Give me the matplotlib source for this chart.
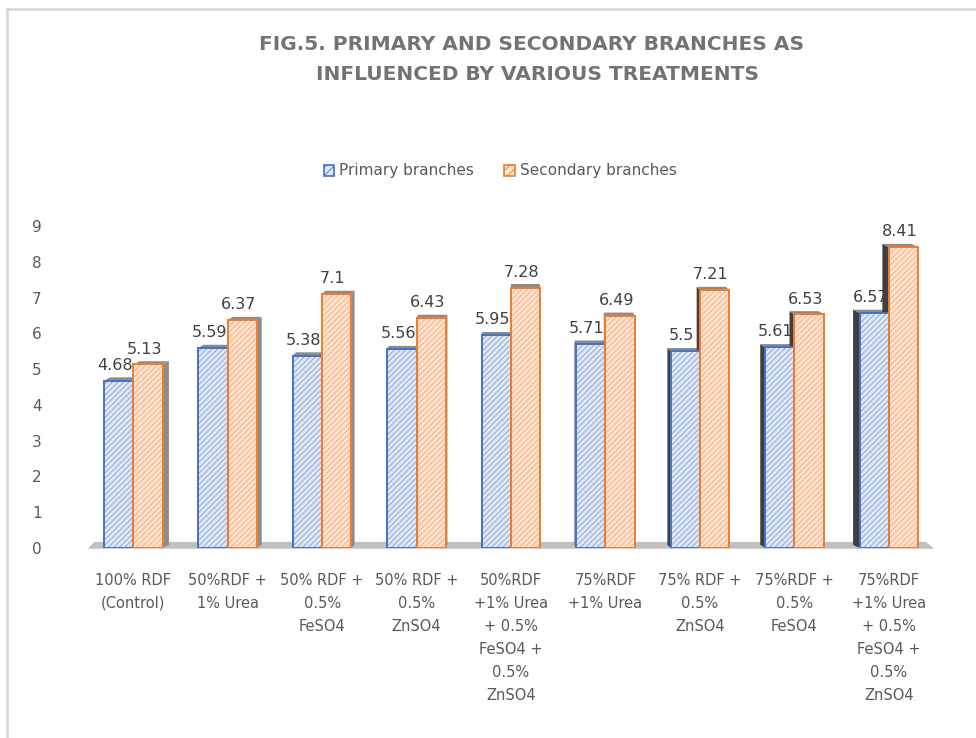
import matplotlib.pyplot as plt
import matplotlib.patches as patches
import matplotlib.transforms as transforms
from matplotlib.lines import Line2D
import numpy as np

# Data
categories = [
    '100% RDF\n(Control)',
    '50%RDF +\n1% Urea',
    '50% RDF +\n0.5%\nFeSO4',
    '50% RDF +\n0.5%\nZnSO4',
    '50%RDF\n+1% Urea\n+ 0.5%\nFeSO4 +\n0.5%\nZnSO4',
    '75%RDF\n+1% Urea',
    '75% RDF +\n0.5%\nZnSO4',
    '75%RDF +\n0.5%\nFeSO4',
    '75%RDF\n+1% Urea\n+ 0.5%\nFeSO4 +\n0.5%\nZnSO4',
]
primary = [4.68, 5.59, 5.38, 5.56, 5.95, 5.71, 5.5, 5.61, 6.57]
secondary = [5.13, 6.37, 7.1, 6.43, 7.28, 6.49, 7.21, 6.53, 8.41]
primary_labels = ['4.68', '5.59', '5.38', '5.56', '5.95', '5.71', '5.5', '5.61', '6.57']
secondary_labels = ['5.13', '6.37', '7.1', '6.43', '7.28', '6.49', '7.21', '6.53', '8.41']
series_names = ['Primary branches', 'Secondary branches']

colors = {
    'primary_edge': '#4472c4',
    'primary_fill': '#dfe7f5',
    'primary_hatch': '#7f9fd8',
    'secondary_edge': '#ed7d31',
    'secondary_fill': '#fde3cf',
    'secondary_hatch': '#f4a774',
    'text': '#595959',
    'title': '#737373',
    'label': '#404040',
}

plt.rcParams['hatch.linewidth'] = 0.6

fig = plt.figure(figsize=(9.76, 7.38), dpi=100)
ax = fig.add_axes([86 / 976, 1 - 548 / 738, 850 / 976, (548 - 226) / 738])

x = np.arange(len(categories))
width = 0.31
center = (len(categories) - 1) / 2


def draw_side(ax, xl, h, w, k):
    """Draw perspective side and top faces of a bar"""
    dx = 0.017 * (center - k)
    dy = 0.09
    if dx > 0:
        side = [(xl + w, 0), (xl + w + dx, dy), (xl + w + dx, h + dy), (xl + w, h)]
        shade = '#8c8c8c'
    else:
        side = [(xl, 0), (xl + dx, dy), (xl + dx, h + dy), (xl, h)]
        shade = '#3f3f3f'
    ax.add_patch(patches.Polygon(side, closed=True, facecolor=shade,
                                 edgecolor='none', zorder=2))
    top = [(xl, h), (xl + w, h), (xl + w + dx, h + dy), (xl + dx, h + dy)]
    ax.add_patch(patches.Polygon(top, closed=True, facecolor='#8c8c8c',
                                 edgecolor='none', zorder=2))


# floor
floor_tr = transforms.blended_transform_factory(ax.transAxes, ax.transData)
ax.add_patch(patches.Polygon([(0.002, -0.02), (0.998, -0.02), (0.988, 0.17), (0.01, 0.17)],
                             closed=True, transform=floor_tr, facecolor='#c0c0c0',
                             edgecolor='none', clip_on=False, zorder=1))

xp = x - width
xs = x.astype(float)
for k in range(len(categories)):
    draw_side(ax, xp[k], primary[k], width, k)
    draw_side(ax, xs[k], secondary[k], width, k)

# fronts: fill+hatch, then border
ax.bar(xp, primary, width, align='edge', color=colors['primary_fill'],
       hatch='//////', edgecolor=colors['primary_hatch'], linewidth=0, zorder=3)
ax.bar(xp, primary, width, align='edge', fill=False,
       edgecolor=colors['primary_edge'], linewidth=1.4, zorder=4)
ax.bar(xs, secondary, width, align='edge', color=colors['secondary_fill'],
       hatch='//////', edgecolor=colors['secondary_hatch'], linewidth=0, zorder=3)
ax.bar(xs, secondary, width, align='edge', fill=False,
       edgecolor=colors['secondary_edge'], linewidth=1.4, zorder=4)

# value labels
for k in range(len(categories)):
    ax.text(xp[k] + width / 2 - 0.04, primary[k] + 0.22, primary_labels[k],
            ha='center', va='bottom', fontsize=11.5, color=colors['label'], zorder=5)
    ax.text(xs[k] + width / 2 - 0.04, secondary[k] + 0.22, secondary_labels[k],
            ha='center', va='bottom', fontsize=11.5, color=colors['label'], zorder=5)

ax.set_xlim(-0.5, len(categories) - 0.5)
ax.set_ylim(0, 9)
ax.set_yticks(range(0, 10))
ax.set_xticks(x)
ax.set_xticklabels(categories, fontsize=10.5, color=colors['text'], linespacing=1.66)
ax.tick_params(axis='x', length=0, pad=18)
ax.tick_params(axis='y', length=0, pad=32, labelsize=11, labelcolor=colors['text'])
for s in ax.spines.values():
    s.set_visible(False)

# title
fig.text(532 / 976, 1 - 45 / 738, 'FIG.5. PRIMARY AND SECONDARY BRANCHES AS',
         ha='center', va='center', fontsize=14.5, fontweight='bold', color=colors['title'])
fig.text(538 / 976, 1 - 75 / 738, 'INFLUENCED BY VARIOUS TREATMENTS',
         ha='center', va='center', fontsize=14.5, fontweight='bold', color=colors['title'])

# legend
handles = [
    patches.Patch(facecolor=colors['primary_fill'], edgecolor=colors['primary_edge'],
                  hatch='////', linewidth=1.2, label=series_names[0]),
    patches.Patch(facecolor=colors['secondary_fill'], edgecolor=colors['secondary_edge'],
                  hatch='////', linewidth=1.2, label=series_names[1]),
]
leg = fig.legend(handles=handles, loc='center', bbox_to_anchor=(500 / 976, 1 - 171 / 738),
                 ncol=2, frameon=False, fontsize=11, handlelength=0.7, handleheight=0.7,
                 handletextpad=0.3, columnspacing=2.0)
for t in leg.get_texts():
    t.set_color(colors['text'])

# chart border (top and left visible)
fig.add_artist(Line2D([6.5 / 976, 6.5 / 976], [0, 1 - 9 / 738], color='#d9d9d9', linewidth=2))
fig.add_artist(Line2D([6.5 / 976, 1], [1 - 9 / 738, 1 - 9 / 738], color='#d9d9d9', linewidth=2))

plt.savefig('out.png', dpi=100)
plt.close()
